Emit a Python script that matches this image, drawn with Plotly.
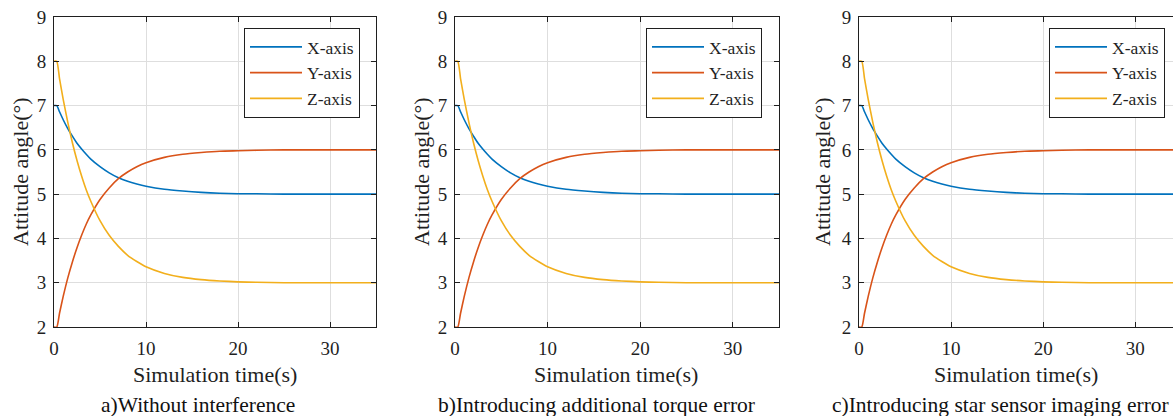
import plotly.graph_objects as go

# Simulation time (s)
t = [0, 0.3, 0.6, 1, 1.5, 2, 2.5, 3, 3.5, 4, 5, 6, 7, 8, 9, 10, 12, 14, 16, 18, 20, 22, 25, 28, 31, 35]
# Attitude angles (deg) (same response in all three panels)
x_axis = [7.00, 7.00, 6.86, 6.68, 6.48, 6.31, 6.15, 6.02, 5.90, 5.79, 5.62, 5.48, 5.37, 5.29, 5.23, 5.18,
          5.11, 5.07, 5.04, 5.02, 5.01, 5.01, 5.00, 5.00, 5.00, 5.00]
y_axis = [2.00, 2.00, 2.31, 2.69, 3.11, 3.47, 3.79, 4.07, 4.32, 4.53, 4.88, 5.14, 5.35, 5.50, 5.62, 5.71,
          5.83, 5.90, 5.94, 5.97, 5.98, 5.99, 6.00, 6.00, 6.00, 6.00]
z_axis = [8.00, 8.00, 7.61, 7.14, 6.62, 6.16, 5.76, 5.41, 5.10, 4.84, 4.40, 4.07, 3.82, 3.62, 3.48, 3.36,
          3.21, 3.12, 3.07, 3.04, 3.02, 3.01, 3.00, 3.00, 3.00, 3.00]

series_names = ["X-axis", "Y-axis", "Z-axis"]
captions = ["a)Without interference", "b)Introducing additional torque error",
            "c)Introducing star sensor imaging error"]
x_ticks = [0, 10, 20, 30]
y_ticks = [2, 3, 4, 5, 6, 7, 8, 9]

W, H = 1173, 416
FONT = "Liberation Serif"
INK = "#1f1f1f"
colors = ["#0072BD", "#D95319", "#F2AF1C"]

# pixel layout of each panel: (left, right, x-range max, legend left, caption centre, ytitle x)
panels = [
    (54, 376, 35, 244, 198, 20),
    (455, 779, 35, 646, 596, 421),
    (859, 1173, 34.1, 1049, 1000, 822),
]
top, bottom = 17, 327

fig = go.Figure()
layout = dict(width=W, height=H, margin=dict(l=0, r=0, t=0, b=0, autoexpand=False),
              paper_bgcolor="white", plot_bgcolor="white",
              font=dict(family=FONT, size=19, color=INK), annotations=[])

for i, (l, r, xmax, legx, capx, ytx) in enumerate(panels):
    k = "" if i == 0 else str(i + 1)
    leg = "legend" + k
    for name, vals, c in zip(series_names, [x_axis, y_axis, z_axis], colors):
        fig.add_trace(go.Scatter(x=t, y=vals, mode="lines", name=name,
                                 line=dict(color=c, width=1.6, shape="spline", smoothing=0.6),
                                 xaxis="x" + k, yaxis="y" + k, legend=leg))
    layout["xaxis" + k] = dict(domain=[l / W, r / W], range=[0, xmax], anchor="y" + k,
                               automargin=False, ticklabelstandoff=4,
                               tickvals=x_ticks, ticks="inside", ticklen=5, tickcolor=INK,
                               showline=True, linecolor=INK, linewidth=1, mirror="ticks",
                               showgrid=True, gridcolor="#dedede", gridwidth=1, zeroline=False,
                               tickfont=dict(size=19, family=FONT, color=INK))
    layout["yaxis" + k] = dict(domain=[1 - bottom / H, 1 - top / H], range=[2, 9], anchor="x" + k,
                               automargin=False, ticklabelstandoff=3,
                               tickvals=y_ticks, ticks="inside", ticklen=5, tickcolor=INK,
                               showline=True, linecolor=INK, linewidth=1,
                               mirror=("ticks" if i < 2 else False),
                               showgrid=True, gridcolor="#dedede", gridwidth=1, zeroline=False,
                               tickfont=dict(size=19, family=FONT, color=INK))
    layout[leg] = dict(x=legx / W, y=1 - 28 / H, xanchor="left", yanchor="top",
                       xref="paper", yref="paper", bgcolor="white", bordercolor=INK,
                       borderwidth=1, font=dict(size=17.5, family=FONT, color=INK),
                       tracegroupgap=0, itemwidth=52)
    layout["annotations"] += [
        dict(text="Simulation time(s)", x=(l + min(r, l + 322)) / 2 / W, y=1 - 374 / H,
             xref="paper", yref="paper", showarrow=False, xanchor="center", yanchor="middle",
             font=dict(size=22, family=FONT, color=INK)),
        dict(text="Attitude angle(°)", x=ytx / W, y=1 - 172 / H, textangle=-90,
             xref="paper", yref="paper", showarrow=False, xanchor="center", yanchor="middle",
             font=dict(size=22, family=FONT, color=INK)),
        dict(text=captions[i], x=capx / W, y=1 - 405 / H,
             xref="paper", yref="paper", showarrow=False, xanchor="center", yanchor="middle",
             font=dict(size=21.5, family=FONT, color="#111111")),
    ]

fig.update_layout(**layout)
fig.write_html("out.html")
